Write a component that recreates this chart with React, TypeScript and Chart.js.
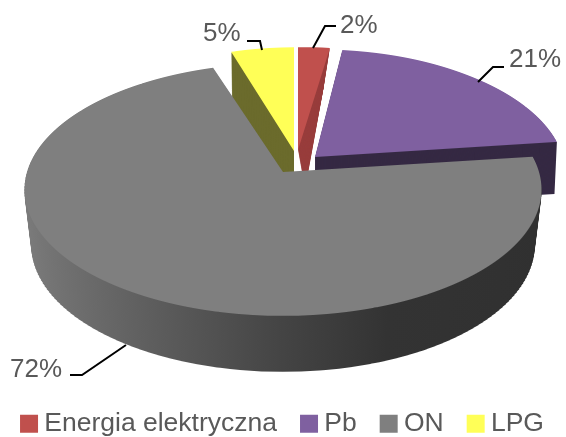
import React, { useEffect, useRef } from "react";
import { Chart, registerables } from "chart.js";

Chart.register(...registerables);

const categories = ["Energia elektryczna", "Pb", "ON", "LPG"];
const shares = [2, 21, 72, 5];
const topColors = ["#c0504d", "#7f60a0", "#7f7f7f", "#ffff57"];
const sideColors = ["#983d3c", "#352943", "", "#6b6b2c"];

const W = 566;
const H = 437;
const CANVAS_W = 620;
const CANVAS_H = 447;
const SHIFT_X = 27;
const FONT = "'Liberation Sans', Arial, sans-serif";
const TEXT = "#595959";

// how each slice of the unit disc is projected on the page
type Geo = { cx: number; cy: number; rx: number; ry: number; w: number; depth: number; bs: number; dx: number };
const geometry: Geo[] = [
  { cx: 298, cy: 150, rx: 290, ry: 117, w: 0.138, depth: 40, bs: 0.58, dx: 7 },
  { cx: 315, cy: 157, rx: 248, ry: 122.6, w: 0.138, depth: 52, bs: 0.99, dx: 0 },
  { cx: 283, cy: 172, rx: 256, ry: 124, w: 0.138, depth: 56, bs: 0.973, dx: 0 },
  { cx: 294, cy: 151, rx: 230, ry: 118, w: 0.138, depth: 45, bs: 0.99, dx: 0 },
];
const paintOrder = [3, 0, 1, 2];

const labelSpots = [
  { x: 340, y: 33, line: [[313, 48], [325, 26], [336, 26]] },
  { x: 509, y: 67, line: [[478, 82], [493, 67], [504, 67]] },
  { x: 10, y: 377, line: [[126, 345], [82, 375], [70, 375]] },
  { x: 203, y: 41, line: [[262, 50], [260, 41], [247, 41]] },
];

function paintSlice(ctx: any, el: any, g: Geo, color: any, dy: number, xs: number, dx: number, band: number) {
  const R = el.outerRadius;
  const ghost = Object.create(el, {
    options: { value: { ...el.options, backgroundColor: color }, writable: true },
  });
  const y0 = Math.floor(g.cy - g.ry / (1 + g.w)) - 1;
  const y1 = Math.ceil(g.cy + g.ry / (1 - g.w)) + 1;
  for (let Y = y0; Y < y1; Y += band) {
    const q = Y + band / 2 - g.cy;
    const den = g.ry + g.w * q;
    const v0 = q / den;
    const s = 1 / (1 - g.w * v0);
    const dv = g.ry / (den * den);
    const a = (g.rx * s * xs) / R;
    const e = g.cx + dx + SHIFT_X - el.x * a;
    const d = 1 / (dv * R);
    const f = Y + band / 2 + dy - (el.y + v0 * R) * d;
    ctx.save();
    ctx.beginPath();
    ctx.rect(0, Y + dy, CANVAS_W, band);
    ctx.clip();
    ctx.setTransform(a, 0, 0, d, e, f);
    ghost.draw(ctx);
    ctx.restore();
  }
}

const pie3d = {
  id: "pie3d",
  beforeDatasetDraw(chart: any, args: any) {
    const ctx = chart.ctx;
    const arcs = args.meta.data;
    for (const i of paintOrder) {
      const el = arcs[i];
      const g = geometry[i];
      let side: any = sideColors[i];
      if (!side) {
        side = ctx.createLinearGradient(el.x - el.outerRadius, 0, el.x + el.outerRadius, 0);
        side.addColorStop(0, "#7c7c7c");
        side.addColorStop(0.5, "#444444");
        side.addColorStop(0.68, "#333333");
        side.addColorStop(1, "#303030");
      }
      for (let dy = g.depth; dy >= 1; dy--) {
        const t = dy / g.depth;
        paintSlice(ctx, el, g, side, dy, 1 - t * (1 - g.bs), t * g.dx, 3);
      }
      paintSlice(ctx, el, g, topColors[i], 0, 1, 0, 1);
    }
    // data labels with leader lines
    ctx.save();
    ctx.translate(SHIFT_X, 0);
    ctx.font = `26px ${FONT}`;
    ctx.fillStyle = TEXT;
    ctx.textBaseline = "alphabetic";
    ctx.strokeStyle = "#000000";
    ctx.lineWidth = 2;
    shares.forEach((v, i) => {
      const spot = labelSpots[i];
      ctx.beginPath();
      spot.line.forEach((p, k) => (k ? ctx.lineTo(p[0], p[1]) : ctx.moveTo(p[0], p[1])));
      ctx.stroke();
      ctx.fillText(`${v}%`, spot.x, spot.y);
    });
    ctx.restore();
    return false;
  },
};

export default function App() {
  const ref = useRef<HTMLCanvasElement>(null);
  useEffect(() => {
    const chart = new Chart(ref.current as any, {
      type: "pie",
      data: {
        labels: categories,
        datasets: [{ data: shares, backgroundColor: topColors, borderWidth: 0 }],
      },
      options: {
        animation: false,
        responsive: false,
        layout: { padding: { left: 5 } },
        plugins: {
          tooltip: { enabled: false },
          legend: {
            position: "bottom",
            labels: {
              usePointStyle: true,
              pointStyle: "rect",
              boxWidth: 4,
              boxHeight: 18,
              padding: 30,
              color: TEXT,
              font: { family: FONT, size: 26.5 },
            },
          },
        },
      },
      plugins: [pie3d],
    } as any);
    return () => chart.destroy();
  }, []);
  return (
    <div style={{ position: "absolute", left: 0, top: 0, width: W, height: H, overflow: "hidden", background: "#fff" }}>
      <canvas
        ref={ref}
        width={CANVAS_W}
        height={CANVAS_H}
        style={{ display: "block", marginLeft: -SHIFT_X, filter: "blur(0.4px)" }}
      />
    </div>
  );
}
